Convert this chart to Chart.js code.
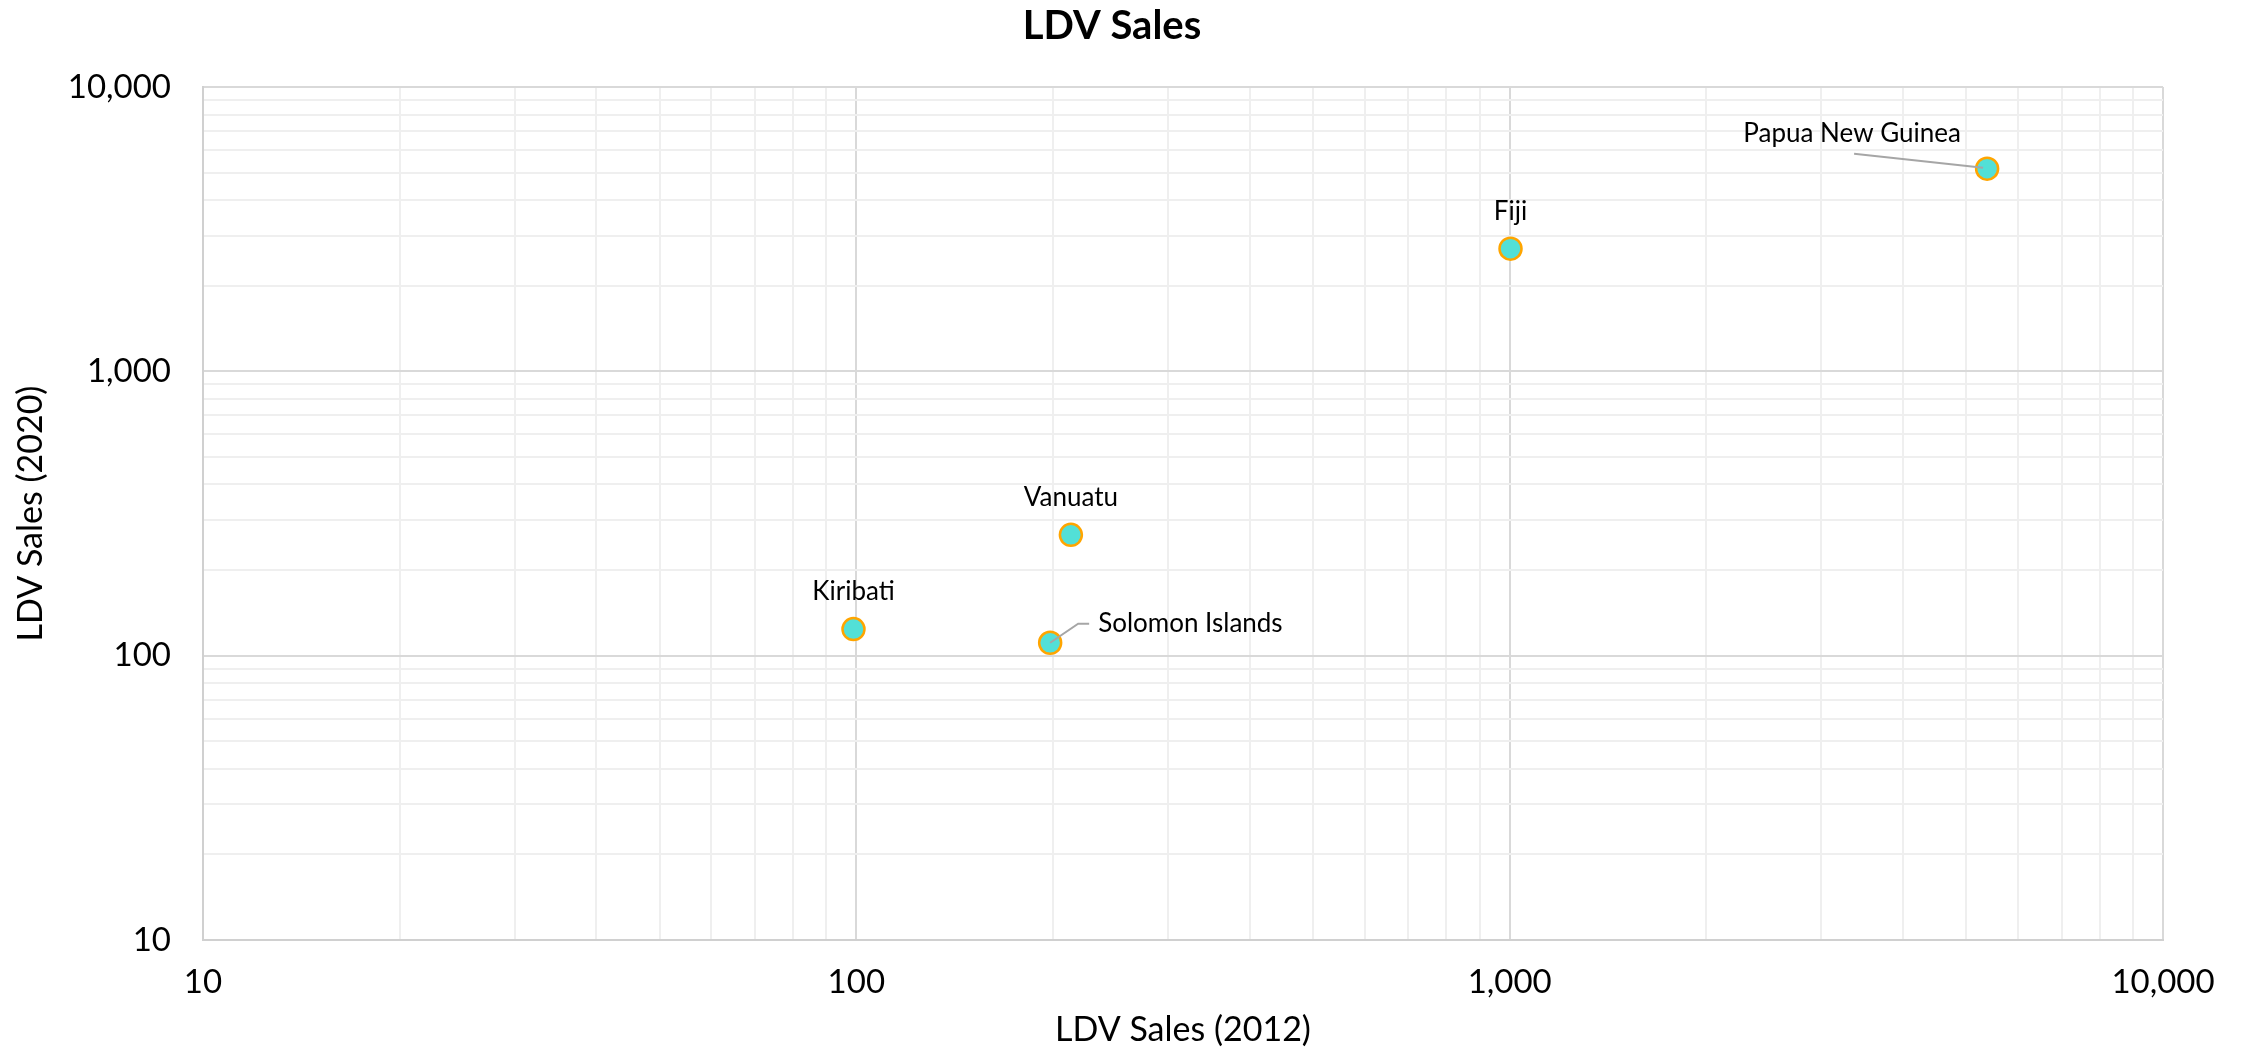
<!DOCTYPE html>
<html>
<head>
<meta charset="utf-8">
<title>LDV Sales</title>
<script src="https://cdn.jsdelivr.net/npm/chart.js@4/dist/chart.umd.min.js"></script>
<style>
  html, body { margin: 0; padding: 0; background: #fff; }
</style>
</head>
<body>
<canvas id="ldv" width="2247" height="1050"></canvas>
<script>
const chartTitle = "LDV Sales";
const countries = ["Kiribati", "Solomon Islands", "Vanuatu", "Fiji", "Papua New Guinea"];
const sales2012 = [99, 198, 213, 1003, 5380];
const sales2020 = [124, 111, 266, 2700, 5160];
const decades = [10, 100, 1000, 10000];
const decadeLabels = ["10", "100", "1,000", "10,000"];

// where each country's label sits relative to its marker (px)
const labelStyle = {
  "Kiribati": { dx: 0, dy: -37, align: "center" },
  "Solomon Islands": { dx: 48, dy: -19, align: "left", leader: [[0, 0], [28, -19], [39, -19]] },
  "Vanuatu": { dx: 0, dy: -37, align: "center" },
  "Fiji": { dx: 0, dy: -37, align: "center" },
  "Papua New Guinea": { dx: -135, dy: -35, align: "center", leader: [[-133, -15], [-4, -1]] },
};

// gridlines at 1..9 x each decade
let gridValues = [];
for (let d of decades.slice(0, -1)) {
  for (let m = 1; m < 10; m++) gridValues.push(d * m);
}
gridValues.push(decades[decades.length - 1]);

const isDecade = (v) => decades.indexOf(v) !== -1;
const tickLabel = (v) => {
  const i = decades.indexOf(v);
  return i === -1 ? "" : decadeLabels[i];
};
const gridColor = (c) => (c.tick && isDecade(c.tick.value) ? "#d9d9d9" : "#efefef");

const pointLabels = {
  id: "pointLabels",
  afterDatasetsDraw(chart) {
    const ctx = chart.ctx;
    const meta = chart.getDatasetMeta(0);
    ctx.save();
    ctx.font = "26px Lato";
    ctx.fillStyle = "#000";
    ctx.textBaseline = "middle";
    meta.data.forEach((pt, i) => {
      const s = labelStyle[countries[i]];
      if (s.leader) {
        ctx.strokeStyle = "#a6a6a6";
        ctx.lineWidth = 2;
        ctx.beginPath();
        s.leader.forEach((p, k) => {
          if (k === 0) ctx.moveTo(pt.x + p[0], pt.y + p[1]);
          else ctx.lineTo(pt.x + p[0], pt.y + p[1]);
        });
        ctx.stroke();
      }
      ctx.textAlign = s.align;
      ctx.fillText(countries[i], pt.x + s.dx, pt.y + s.dy);
    });
    // chart title, centred a little right of the canvas middle like the original
    ctx.font = "bold 40px Lato";
    ctx.textAlign = "center";
    ctx.fillText(chartTitle, 1112, 26);
    ctx.restore();
  },
};

Chart.defaults.font.family = "Lato";
Chart.defaults.color = "#000";

const ldv = document.querySelector("#ldv").getContext("2d");

let config = {
  type: "scatter",
  data: {
    datasets: [
      {
        label: chartTitle,
        data: countries.map((c, i) => ({ x: sales2012[i], y: sales2020[i] })),
        backgroundColor: "#52e0d7",
        borderColor: "#ffa500",
        borderWidth: 2.5,
        pointRadius: 11,
        pointHoverRadius: 11,
      },
    ],
  },
  options: {
    responsive: false,
    animation: false,
    layout: { padding: { left: 0, right: 84, top: 87, bottom: 0 } },
    plugins: {
      legend: { display: false },
      tooltip: { enabled: false },
      title: { display: false },
    },
    scales: {
      x: {
        type: "logarithmic",
        min: 10,
        max: 10000,
        afterBuildTicks: (s) => { s.ticks = gridValues.map((v) => ({ value: v })); },
        afterFit: (s) => { s.height = 110; },
        ticks: {
          autoSkip: false,
          maxRotation: 0,
          padding: 23,
          font: { size: 33 },
          color: "#000",
          callback: (v) => tickLabel(v),
        },
        grid: { drawTicks: false, lineWidth: 2, color: gridColor },
        border: { color: "#d0d0d0", width: 2 },
        title: {
          display: true,
          text: "LDV Sales (2012)",
          color: "#000",
          font: { size: 34 },
          padding: { top: 0, bottom: 0 },
        },
      },
      y: {
        type: "logarithmic",
        min: 10,
        max: 10000,
        afterBuildTicks: (s) => { s.ticks = gridValues.map((v) => ({ value: v })); },
        afterFit: (s) => { s.width = 203; },
        ticks: {
          autoSkip: false,
          padding: 32,
          font: { size: 33 },
          color: "#000",
          callback: (v) => tickLabel(v),
        },
        grid: { drawTicks: false, lineWidth: 2, color: gridColor },
        border: { color: "#d0d0d0", width: 2 },
        title: {
          display: true,
          text: "LDV Sales (2020)",
          color: "#000",
          font: { size: 34 },
          padding: { top: 11, bottom: 0 },
        },
      },
    },
  },
  plugins: [pointLabels],
};
var myChart = new Chart(ldv, config);
</script>
</body>
</html>
